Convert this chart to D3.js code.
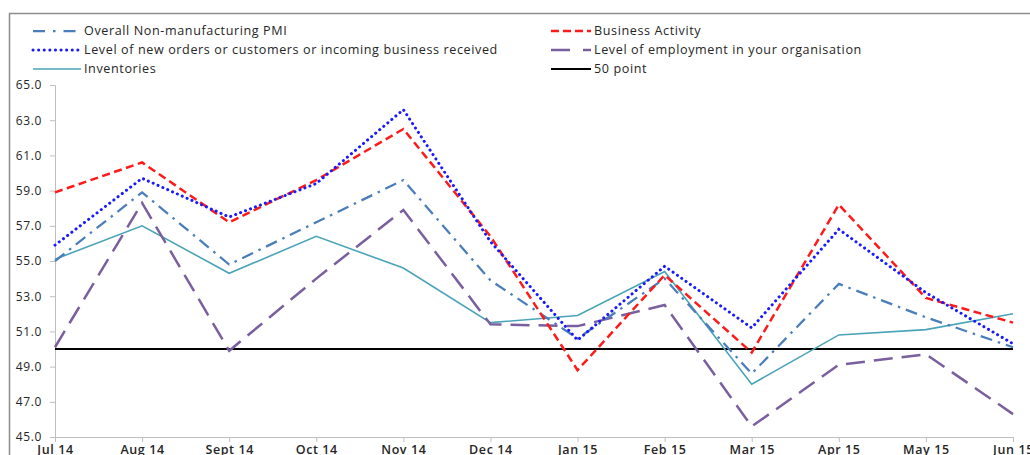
<!DOCTYPE html>
<html>
<head>
<meta charset="utf-8">
<script src="https://cdn.jsdelivr.net/npm/d3@7"></script>
<style>
  html, body { margin: 0; padding: 0; background: #fff; }
  svg { display: block; }
  text { font-family: "Open Sans", "DejaVu Sans", sans-serif; fill: #262626; }
</style>
</head>
<body>
<svg id="chart" width="1030" height="455"></svg>
<script>
// Monthly categories
const months = ["Jul 14", "Aug 14", "Sept 14", "Oct 14", "Nov 14", "Dec 14",
                "Jan 15", "Feb 15", "Mar 15", "Apr 15", "May 15", "Jun 15"];

// Index values per series
const overallPMI   = [55.0, 58.9, 54.8, 57.2, 59.6, 53.9, 50.6, 54.0, 48.6, 53.7, 51.8, 50.1];
const businessAct  = [58.9, 60.6, 57.2, 59.6, 62.5, 56.4, 48.8, 54.2, 49.8, 58.2, 52.9, 51.5];
const newOrders    = [55.9, 59.7, 57.5, 59.4, 63.6, 56.1, 50.5, 54.7, 51.2, 56.8, 53.2, 50.3];
const employment   = [50.1, 58.3, 49.9, 54.0, 57.9, 51.4, 51.3, 52.5, 45.6, 49.1, 49.7, 46.3];
const inventories  = [55.1, 57.0, 54.3, 56.4, 54.6, 51.5, 51.9, 54.4, 48.0, 50.8, 51.1, 52.0];
const fiftyPoint   = [50, 50, 50, 50, 50, 50, 50, 50, 50, 50, 50, 50];

// Y axis tick labels
const yTicks = [45, 47, 49, 51, 53, 55, 57, 59, 61, 63, 65];

const series = [
  { name: "Overall Non-manufacturing PMI", values: overallPMI, color: "#4a7ebb", width: 2.25, dash: "12,6,2.5,6", col: 0, row: 0, legendDash: "12,8,2.5,8" },
  { name: "Business Activity", values: businessAct, color: "#ff1a1a", width: 2.5, dash: "8,4.5", col: 1, row: 0, legendDash: "8,4" },
  { name: "Level of new orders or customers or incoming business received", values: newOrders, color: "#1a1aff", width: 3, dash: "0.1,5.2", cap: "round", col: 0, row: 1, legendDash: "0.1,5.5" },
  { name: "Level of employment in your organisation", values: employment, color: "#7a5f9e", width: 2.5, dash: "19,9", col: 1, row: 1, legendDash: "19,13" },
  { name: "Inventories", values: inventories, color: "#4aa3b8", width: 1.6, dash: null, col: 0, row: 2 },
  { name: "50 point", values: fiftyPoint, color: "#000000", width: 2, dash: null, col: 1, row: 2 }
];

const svg = d3.select("#chart");

const x = d3.scalePoint().domain(months).range([55, 1013]);
const y = d3.scaleLinear().domain([45, 65]).range([437, 85]);

// outer frame
svg.append("path")
  .attr("d", "M9.5,455 L9.5,13.5 L1030,13.5")
  .attr("fill", "none").attr("stroke", "#8c8c8c").attr("stroke-width", 1.5);

// Y axis
const yAxis = d3.axisLeft(y).tickValues(yTicks).tickSize(5).tickPadding(8)
  .tickFormat(d3.format(".1f"));
const gy = svg.append("g").attr("transform", "translate(55,0)").call(yAxis);
gy.select(".domain").attr("stroke", "#bfbfbf");
gy.selectAll(".tick line").attr("stroke", "#bfbfbf");
gy.selectAll(".tick text").attr("font-size", 12).attr("fill", "#404040")
  .style("letter-spacing", "0.6px");

// X axis
const xAxis = d3.axisBottom(x).tickSize(5).tickPadding(3);
const gx = svg.append("g").attr("transform", "translate(0,437)").call(xAxis);
gx.select(".domain").attr("stroke", "#bfbfbf");
gx.selectAll(".tick line").attr("stroke", "#bfbfbf");
gx.selectAll(".tick text").attr("font-size", 12.5).attr("font-weight", 600)
  .attr("fill", "#262626").style("letter-spacing", "0.6px");

// lines
const line = d3.line().x((d, i) => x(months[i])).y(d => y(d));

const drawOrder = [5, 4, 3, 0, 1, 2];
drawOrder.forEach(k => {
  const s = series[k];
  svg.append("path")
    .datum(s.values)
    .attr("d", line)
    .attr("fill", "none")
    .attr("stroke", s.color)
    .attr("stroke-width", s.width)
    .attr("stroke-dasharray", s.dash)
    .attr("stroke-linecap", s.cap || "butt")
    .attr("stroke-linejoin", "miter");
});

// legend
const colX = [33, 551];
const rowY = [31, 50, 69];
const legend = svg.append("g");
series.forEach(s => {
  const gx0 = colX[s.col], gy0 = rowY[s.row];
  const swLen = s.col === 0 ? 48 : 40;
  legend.append("line")
    .attr("x1", gx0).attr("x2", gx0 + swLen)
    .attr("y1", gy0).attr("y2", gy0)
    .attr("stroke", s.color)
    .attr("stroke-width", s.width)
    .attr("stroke-dasharray", s.legendDash || null)
    .attr("stroke-linecap", s.cap || "butt");
  legend.append("text")
    .attr("x", gx0 + swLen + 3).attr("y", gy0)
    .attr("dy", "0.35em")
    .attr("font-size", 12.6)
    .style("letter-spacing", "0.6px")
    .text(s.name);
});
</script>
</body>
</html>
